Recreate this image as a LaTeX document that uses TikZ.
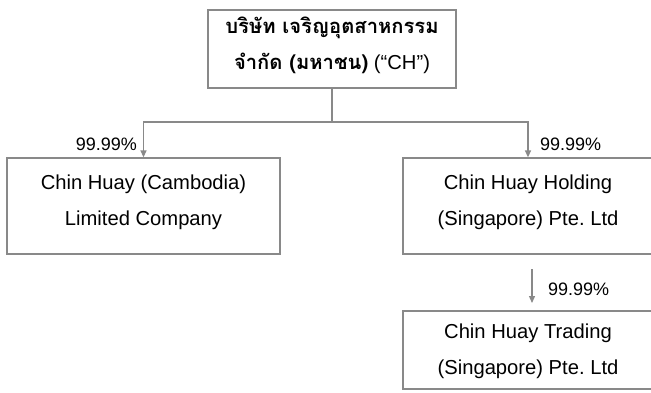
\documentclass[tikz,border=0pt]{standalone}
\usepackage{fontspec}
\setmainfont{Liberation Sans}
\newfontfamily\thaifont[Script=Thai]{Loma}
\usetikzlibrary{arrows.meta,positioning}
\definecolor{linegray}{RGB}{137,137,137}
\frenchspacing

\begin{document}
\begin{tikzpicture}[x=1pt, y=-1pt,
    rec/.style  = {draw=linegray, line width=1.3pt, rectangle, align=center,
                   inner sep=0pt, text depth=12pt, font=\fontsize{20.2}{36}\selectfont},
    root/.style = {rec, minimum width=248pt, minimum height=78pt},
    sub/.style  = {rec, minimum width=273pt, minimum height=96pt},
    share/.style = {font=\fontsize{18}{20}\selectfont, inner sep=0pt},
    link/.style = {draw=linegray, line width=1.3pt},
    >={Triangle[length=7pt, width=6pt]}]

    \useasboundingbox (0,0) rectangle (651,392);
    \clip (0,0) rectangle (651,392);

    \node[root, text depth=12pt] (ch) at (332,49)
        {{\thaifont\bfseries บริษัท เจริญอุตสาหกรรม}\\
         {\thaifont\bfseries จำกัด (มหาชน)} (“CH”)};

    \node[sub] (cambodia) at (143.5,206) {Chin Huay (Cambodia)\\Limited Company};
    \node[sub, minimum width=250pt] (holding) at (528,206)
        {Chin Huay Holding\\(Singapore) Pte. Ltd};
    \node[root, minimum width=250pt, text depth=1pt] (trading) at (528,350)
        {Chin Huay Trading\\(Singapore) Pte. Ltd};

    % branch from the parent
    \coordinate (split) at (332,122);
    \draw[link] (ch.south) -- (split);
    \foreach \child in {cambodia, holding}
    \draw[link, ->] (split) -| (\child.north);

    \node[share, anchor=east] (p1) at (137,144) {99.99\%};
    \node[share, anchor=west] (p2) at (540,144) {99.99\%};

    % holding -> trading
    \coordinate (t1) at (532,269);
    \coordinate (t2) at (532,303);
    \draw[link, ->] (t1) -- (t2);
    \node[share, anchor=west] (p3) at (548,289) {99.99\%};
\end{tikzpicture}
\end{document}
